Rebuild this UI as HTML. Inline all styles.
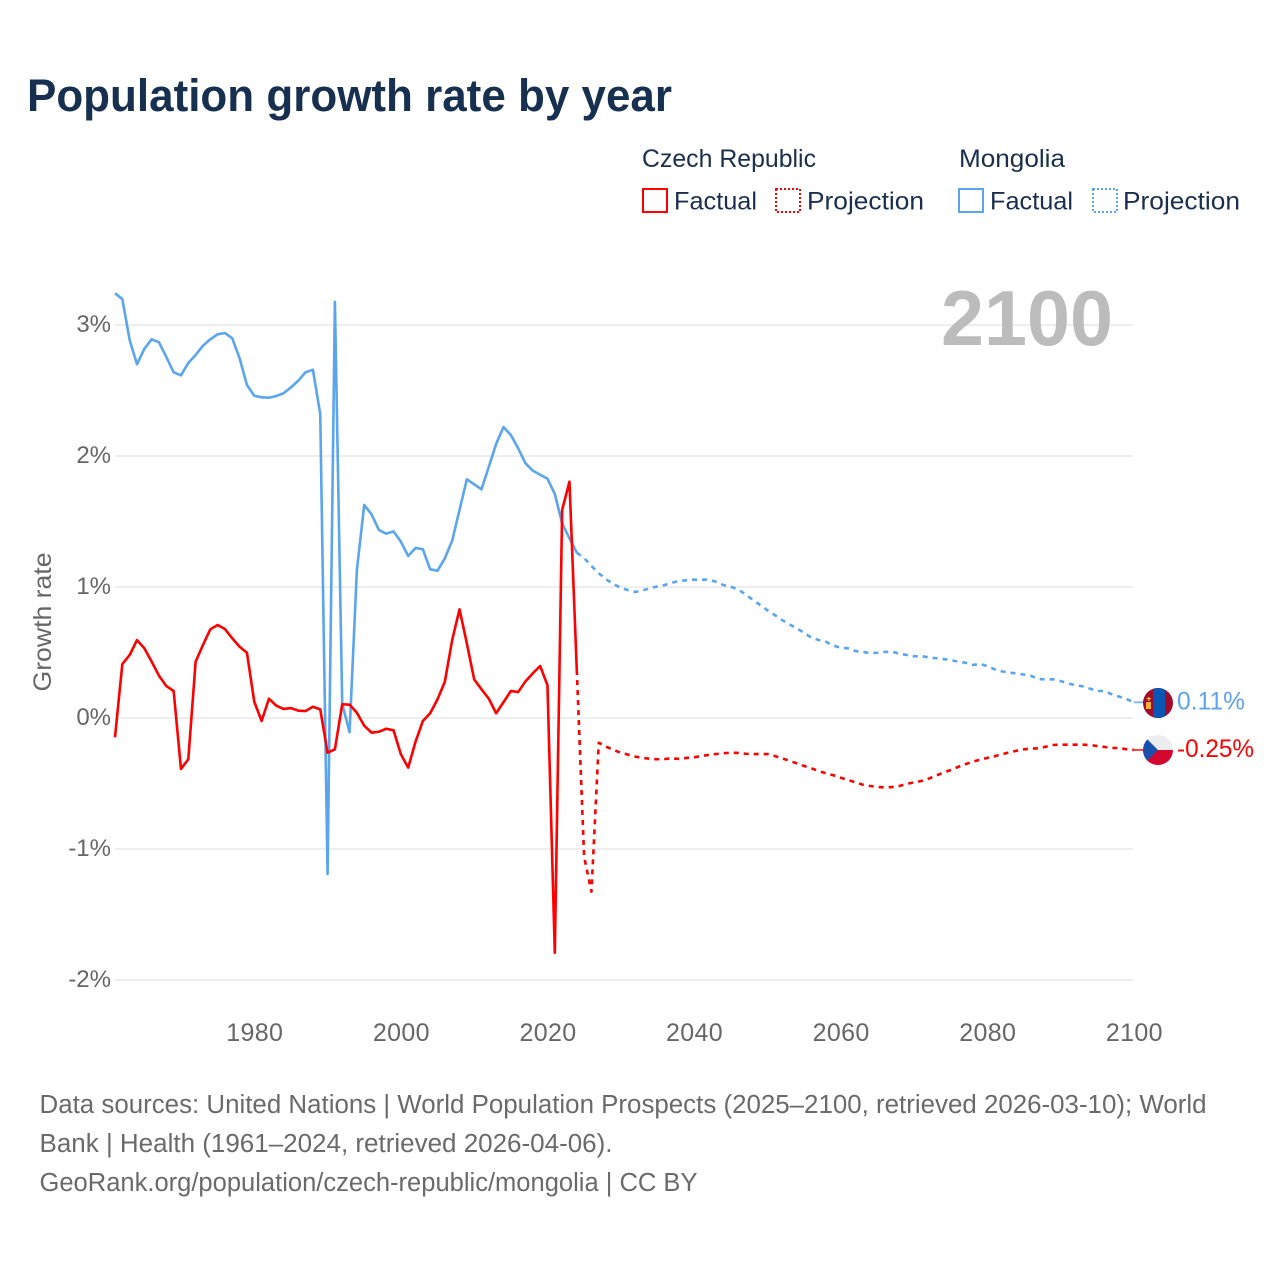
<!DOCTYPE html>
<html lang="en">
<head>
<meta charset="utf-8">
<title>Population growth rate by year</title>
<style>
html,body{margin:0;padding:0;background:#fff;}
svg{display:block;font-family:"Liberation Sans",Arial,sans-serif;}
</style>
</head>
<body>
<svg id="chart" xmlns="http://www.w3.org/2000/svg" width="1280" height="1280" viewBox="0 0 1280 1280">
  <rect x="0" y="0" width="1280" height="1280" fill="#ffffff"/>
  <text x="27" y="111" font-size="45.5" font-weight="700" fill="#17304f" textLength="645" lengthAdjust="spacingAndGlyphs">Population growth rate by year</text>

  <g font-size="25" fill="#1a2f4f">
    <text x="642" y="167" textLength="174" lengthAdjust="spacingAndGlyphs">Czech Republic</text>
    <text x="959" y="167" textLength="106" lengthAdjust="spacingAndGlyphs">Mongolia</text>
    <rect x="643" y="189" width="24" height="23" fill="none" stroke="#ff0000" stroke-width="2"/>
    <text x="674" y="209.5" textLength="83" lengthAdjust="spacingAndGlyphs">Factual</text>
    <rect x="776" y="189" width="24" height="23" fill="none" stroke="#ff0000" stroke-width="2" stroke-dasharray="2 2"/>
    <text x="807" y="209.5" textLength="117" lengthAdjust="spacingAndGlyphs">Projection</text>
    <rect x="959" y="189" width="24" height="23" fill="none" stroke="#5ba4ee" stroke-width="2"/>
    <text x="990" y="209.5" textLength="83" lengthAdjust="spacingAndGlyphs">Factual</text>
    <rect x="1093" y="189" width="24" height="23" fill="none" stroke="#5ba4ee" stroke-width="2" stroke-dasharray="2 2"/>
    <text x="1123" y="209.5" textLength="117" lengthAdjust="spacingAndGlyphs">Projection</text>
  </g>

  <g id="grid"></g>
  <g id="yticks" font-size="24" fill="#666666" text-anchor="end"></g>
  <g id="xticks" font-size="25" fill="#666666" text-anchor="middle"></g>

  <text transform="translate(51,622) rotate(-90)" font-size="25" fill="#666666" text-anchor="middle" textLength="139" lengthAdjust="spacingAndGlyphs">Growth rate</text>
  <text x="941" y="345" font-size="78" font-weight="700" fill="#bcbcbc" textLength="172" lengthAdjust="spacingAndGlyphs">2100</text>

  <g id="series" fill="none" stroke-width="2.6" stroke-linejoin="round"></g>

  <defs>
    <clipPath id="flag-clip-mn"><circle cx="1158" cy="703" r="15"/></clipPath>
    <clipPath id="flag-clip-cz"><circle cx="1158" cy="750" r="15"/></clipPath>
  </defs>
  <g clip-path="url(#flag-clip-mn)">
    <rect x="1143" y="688" width="30" height="30" fill="#a30b2c"/>
    <rect x="1153" y="688" width="12" height="30" fill="#0a56b4"/>
    <rect x="1146" y="702" width="5" height="7" fill="#f2b13a"/>
    <rect x="1148" y="697" width="1.5" height="4" fill="#f2b13a"/>
    <rect x="1146.5" y="698" width="4.5" height="1.2" fill="#f2b13a"/>
  </g>
  <g clip-path="url(#flag-clip-cz)">
    <rect x="1143" y="735" width="30" height="15" fill="#ebedef"/>
    <rect x="1143" y="750" width="30" height="15" fill="#d5072f"/>
    <polygon points="1143,735 1158,750 1143,765" fill="#1b50ad"/>
  </g>

  <text x="1177" y="709.5" font-size="25" fill="#5ba4ee" textLength="68" lengthAdjust="spacingAndGlyphs">0.11%</text>
  <text x="1177" y="757" font-size="25" fill="#ff0000" textLength="77" lengthAdjust="spacingAndGlyphs">-0.25%</text>

  <g font-size="25.5" fill="#6a6a6a">
    <text x="39.5" y="1113" textLength="1167" lengthAdjust="spacingAndGlyphs">Data sources: United Nations | World Population Prospects (2025–2100, retrieved 2026-03-10); World</text>
    <text x="39.5" y="1152" textLength="573" lengthAdjust="spacingAndGlyphs">Bank | Health (1961–2024, retrieved 2026-04-06).</text>
    <text x="39.5" y="1191" textLength="658" lengthAdjust="spacingAndGlyphs">GeoRank.org/population/czech-republic/mongolia | CC BY</text>
  </g>
</svg>

<script>
const yTickValues = [3, 2, 1, 0, -1, -2];
const yTickLabels = ["3%", "2%", "1%", "0%", "-1%", "-2%"];
const xTickYears = [1980, 2000, 2020, 2040, 2060, 2080, 2100];
const xTickLabels = ["1980", "2000", "2020", "2040", "2060", "2080", "2100"];

const factualStartYear = 1961;
const projectionStartYear = 2024;

const mongoliaFactual = [
  3.242, 3.198, 2.885, 2.70, 2.817, 2.891, 2.868, 2.756, 2.639, 2.616,
  2.71, 2.771, 2.842, 2.891, 2.929, 2.939, 2.898, 2.746, 2.542, 2.46,
  2.448, 2.445, 2.458, 2.479, 2.524, 2.575, 2.639, 2.659, 2.321, -1.191,
  3.176, 0.107, -0.109, 1.13, 1.626, 1.555, 1.435, 1.407, 1.425, 1.346,
  1.237, 1.298, 1.288, 1.135, 1.124, 1.219, 1.353, 1.588, 1.822, 1.784,
  1.746, 1.918, 2.092, 2.221, 2.16, 2.059, 1.944, 1.888, 1.857, 1.827,
  1.71, 1.486, 1.372, 1.262
];

const mongoliaProjection = [
  1.262, 1.221, 1.16, 1.105, 1.059, 1.021, 0.995, 0.975, 0.962, 0.975,
  0.99, 1.005, 1.015, 1.033, 1.046, 1.051, 1.056, 1.056, 1.056, 1.04,
  1.015, 1.002, 0.982, 0.944, 0.903, 0.863, 0.822, 0.786, 0.748, 0.715,
  0.685, 0.651, 0.613, 0.595, 0.582, 0.552, 0.537, 0.532, 0.511, 0.504,
  0.496, 0.498, 0.504, 0.506, 0.491, 0.481, 0.471, 0.473, 0.463, 0.456,
  0.45, 0.443, 0.43, 0.422, 0.405, 0.412, 0.397, 0.372, 0.356, 0.346,
  0.341, 0.331, 0.321, 0.298, 0.295, 0.295, 0.282, 0.265, 0.25, 0.242,
  0.224, 0.206, 0.206, 0.181, 0.163, 0.145, 0.12
];

const czechFactual = [
  -0.147, 0.412, 0.481, 0.595, 0.532, 0.43, 0.323, 0.244, 0.206, -0.389,
  -0.315, 0.43, 0.557, 0.677, 0.71, 0.679, 0.608, 0.544, 0.498, 0.124,
  -0.023, 0.147, 0.094, 0.069, 0.076, 0.056, 0.053, 0.086, 0.066, -0.265,
  -0.239, 0.105, 0.102, 0.04, -0.059, -0.112, -0.105, -0.082, -0.094, -0.277,
  -0.379, -0.181, -0.023, 0.036, 0.143, 0.277, 0.595, 0.83, 0.57, 0.295,
  0.219, 0.147, 0.036, 0.12, 0.206, 0.198, 0.28, 0.341, 0.397, 0.25,
  -1.792, 1.588, 1.804, 0.366
];

const czechProjection = [
  0.366, -1.059, -1.326, -0.189, -0.219, -0.244, -0.265, -0.28, -0.295, -0.305,
  -0.311, -0.315, -0.313, -0.308, -0.313, -0.305, -0.3, -0.29, -0.282, -0.275,
  -0.269, -0.265, -0.267, -0.273, -0.275, -0.275, -0.275, -0.29, -0.308, -0.326,
  -0.346, -0.366, -0.384, -0.405, -0.422, -0.437, -0.456, -0.473, -0.491, -0.509,
  -0.519, -0.527, -0.529, -0.527, -0.519, -0.504, -0.491, -0.481, -0.463, -0.44,
  -0.418, -0.397, -0.374, -0.353, -0.334, -0.318, -0.305, -0.292, -0.277, -0.262,
  -0.25, -0.239, -0.234, -0.231, -0.219, -0.206, -0.204, -0.204, -0.204, -0.204,
  -0.206, -0.214, -0.221, -0.229, -0.229, -0.239, -0.244
];

const NS = 'http://www.w3.org/2000/svg';
const xScale = function (year) { return 115 + (year - 1961) * 7.33; };
const yScale = function (value) { return 718 - value * 131; };

function buildPath(values, startYear) {
  return values.map(function (v, i) {
    return (i ? 'L' : 'M') + xScale(startYear + i).toFixed(2) + ' ' + yScale(v).toFixed(2);
  }).join(' ');
}

const gridGroup = document.getElementById('grid');
const yGroup = document.getElementById('yticks');
yTickValues.forEach(function (v, i) {
  const line = document.createElementNS(NS, 'line');
  
  
  line.setAttribute('x1', xScale(1961));
  line.setAttribute('x2', 1133);
  line.setAttribute('y1', yScale(v));
  line.setAttribute('y2', yScale(v));
  line.setAttribute('stroke', '#eeeeee');
  line.setAttribute('stroke-width', '2');
  gridGroup.appendChild(line);

  const label = document.createElementNS(NS, 'text');
  
  
  label.setAttribute('x', 111);
  label.setAttribute('y', yScale(v) + 7);
  label.textContent = yTickLabels[i];
  yGroup.appendChild(label);
});

const xGroup = document.getElementById('xticks');
xTickYears.forEach(function (year, i) {
  const label = document.createElementNS(NS, 'text');
  
  
  label.setAttribute('x', xScale(year) + 0.5);
  label.setAttribute('y', 1041);
  label.setAttribute('letter-spacing', '0.35');
  label.textContent = xTickLabels[i];
  xGroup.appendChild(label);
});

const seriesGroup = document.getElementById('series');

const mongoliaLine = document.createElementNS(NS, 'path');


mongoliaLine.setAttribute('d', buildPath(mongoliaFactual, factualStartYear));
mongoliaLine.setAttribute('stroke', '#5ba4ee');
seriesGroup.appendChild(mongoliaLine);

const mongoliaDash = document.createElementNS(NS, 'path');


mongoliaDash.setAttribute('d', buildPath(mongoliaProjection, projectionStartYear));
mongoliaDash.setAttribute('stroke', '#5ba4ee');
mongoliaDash.setAttribute('stroke-dasharray', '5 5');
seriesGroup.appendChild(mongoliaDash);

const czechLine = document.createElementNS(NS, 'path');


czechLine.setAttribute('d', buildPath(czechFactual, factualStartYear));
czechLine.setAttribute('stroke', '#ff0000');
seriesGroup.appendChild(czechLine);

const czechDash = document.createElementNS(NS, 'path');


czechDash.setAttribute('d', buildPath(czechProjection, projectionStartYear));
czechDash.setAttribute('stroke', '#ff0000');
czechDash.setAttribute('stroke-dasharray', '5 5');
seriesGroup.appendChild(czechDash);

const mongoliaLeader = document.createElementNS(NS, 'line');


mongoliaLeader.setAttribute('x1', xScale(2100));
mongoliaLeader.setAttribute('x2', 1144);
mongoliaLeader.setAttribute('y1', yScale(mongoliaProjection[mongoliaProjection.length - 1]));
mongoliaLeader.setAttribute('y2', yScale(mongoliaProjection[mongoliaProjection.length - 1]));
mongoliaLeader.setAttribute('stroke', '#5ba4ee');
mongoliaLeader.setAttribute('stroke-width', '2');
mongoliaLeader.setAttribute('stroke-opacity', '0.75');
seriesGroup.appendChild(mongoliaLeader);

const czechLeader = document.createElementNS(NS, 'line');


czechLeader.setAttribute('x1', xScale(2100));
czechLeader.setAttribute('x2', 1144);
czechLeader.setAttribute('y1', yScale(czechProjection[czechProjection.length - 1]));
czechLeader.setAttribute('y2', yScale(czechProjection[czechProjection.length - 1]));
czechLeader.setAttribute('stroke', '#ff0000');
czechLeader.setAttribute('stroke-width', '2');
czechLeader.setAttribute('stroke-opacity', '0.75');
seriesGroup.appendChild(czechLeader);
</script>
</body>
</html>
